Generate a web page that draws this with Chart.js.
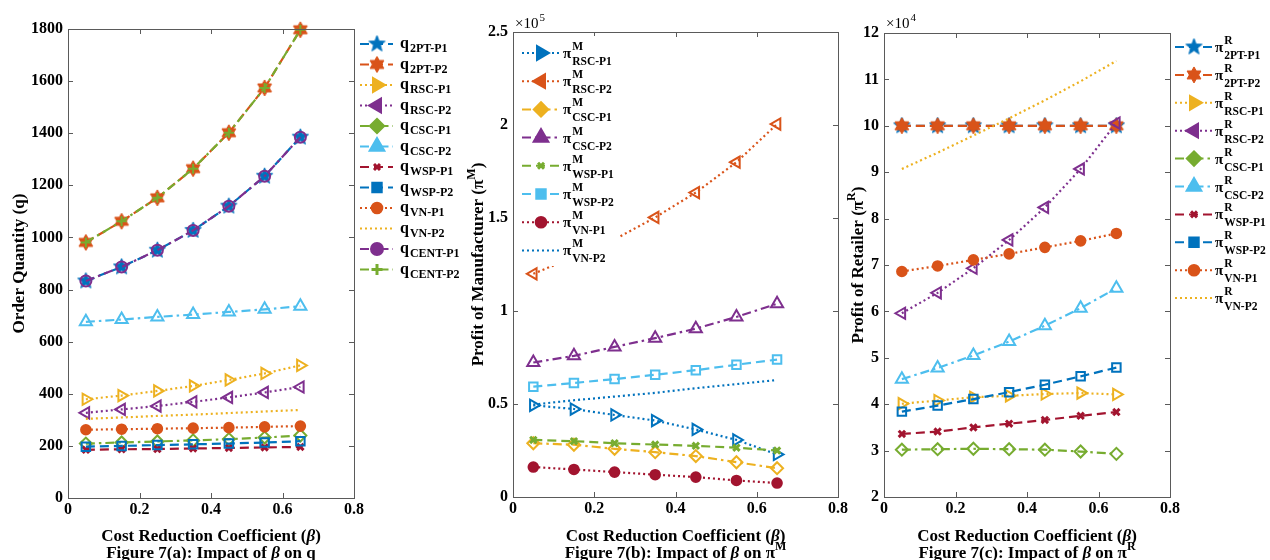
<!DOCTYPE html>
<html>
<head>
<meta charset="utf-8">
<script src="https://cdn.jsdelivr.net/npm/chart.js@4.4.1/dist/chart.umd.min.js"></script>
<style>
    html, body { margin: 0; padding: 0; background: #fff; }
    #wrap { position: relative; width: 1270px; height: 560px; overflow: hidden; background: #fff; }
    #wrap canvas { position: absolute; left: 0; top: 0; }
</style>
</head>
<body>
<div id="wrap">
    <canvas id="figA" width="1270" height="560"></canvas>
    <canvas id="figB" width="1270" height="560"></canvas>
    <canvas id="figC" width="1270" height="560"></canvas>
</div>
<script>
// x values (cost reduction coefficient beta) and tick labels
const beta = [0.05, 0.15, 0.25, 0.35, 0.45, 0.55, 0.65];
const xTickValues = [0, 0.2, 0.4, 0.6, 0.8];
const xTickLabels = ["0", "0.2", "0.4", "0.6", "0.8"];

// Figure 7(a): order quantity q
const q2ptP1 = [833, 887, 951, 1027, 1120, 1235, 1385];
const q2ptP2 = [981, 1062, 1152, 1264, 1402, 1574, 1797];
const qRscP1 = [379, 393, 411, 430, 453, 478, 509];
const qRscP2 = [327, 340, 353, 369, 386, 405, 426];
const qCscP1 = [209, 213, 217, 221, 226, 232, 240];
const qCscP2 = [676, 685, 695, 704, 714, 724, 736];
const qWspP1 = [185, 187, 188, 190, 192, 194, 196];
const qWspP2 = [197, 200, 203, 206, 209, 213, 218];
const qVnP1 = [262, 264, 266, 268, 270, 273, 276];
const qVnP2 = [304, 309, 315, 320, 326, 332, 338];
const qCentP1 = [833, 887, 951, 1027, 1120, 1235, 1385];
const qCentP2 = [981, 1062, 1152, 1264, 1402, 1574, 1797];
const yTicksA = [0, 200, 400, 600, 800, 1000, 1200, 1400, 1600, 1800];
const yLabelsA = ["0", "200", "400", "600", "800", "1000", "1200", "1400", "1600", "1800"];

// Figure 7(b): manufacturer profit
const mRscP1 = [49300, 47300, 44100, 41100, 36300, 30700, 22900];
const mRscP2 = [120000, 129000, 138500, 150300, 163700, 180000, 200500];
const mCscP1 = [28900, 28100, 25900, 24100, 22000, 18700, 15500];
const mCscP2 = [72300, 75900, 80700, 85400, 90500, 96800, 103900];
const mWspP1 = [30700, 30000, 28900, 28200, 27500, 26500, 25000];
const mWspP2 = [59300, 61300, 63400, 65700, 68200, 71100, 73900];
const mVnP1 = [16100, 14800, 13400, 12000, 10700, 8900, 7500];
const mVnP2 = [49700, 52000, 54000, 56000, 58500, 60700, 62900];
const yTicksB = [0, 50000, 100000, 150000, 200000, 250000];
const yLabelsB = ["0", "0.5", "1", "1.5", "2", "2.5"];

// Figure 7(c): retailer profit
const r2ptP1 = [100000, 100000, 100000, 100000, 100000, 100000, 100000];
const r2ptP2 = [100000, 100000, 100000, 100000, 100000, 100000, 100000];
const rRscP1 = [40100, 40800, 41500, 41800, 42200, 42400, 42100];
const rRscP2 = [59600, 64000, 69300, 75400, 82400, 90700, 100600];
const rCscP1 = [30200, 30300, 30400, 30300, 30200, 29800, 29300];
const rCscP2 = [45400, 47800, 50500, 53500, 56900, 60700, 65000];
const rWspP1 = [33600, 34100, 35000, 35800, 36600, 37500, 38300];
const rWspP2 = [38400, 39700, 41100, 42600, 44200, 46000, 47900];
const rVnP1 = [68600, 69800, 71100, 72400, 73800, 75200, 76800];
const rVnP2 = [90700, 94200, 97900, 101600, 105500, 109600, 114000];
const yTicksC = [20000, 30000, 40000, 50000, 60000, 70000, 80000, 90000, 100000, 110000, 120000];
const yLabelsC = ["2", "3", "4", "5", "6", "7", "8", "9", "10", "11", "12"];

const C = { blue: "#0072BD", orange: "#D95319", yellow: "#EDB120", purple: "#7E2F8E",
            green: "#77AC30", lightblue: "#4DBEEE", darkred: "#A2142F" };
const DASH = { dash: [9, 5], dot: [2, 3], dashdot: [9, 4, 2.5, 4] };
const FONT = '"Liberation Serif", "Times New Roman", serif';

function fnt(size, bold, italic) {
    return (italic ? "italic " : "") + (bold ? "bold " : "") + size + "px " + FONT;
}

// filled 5- or 6-pointed star as a point image
function starCanvas(n, color, r) {
    const c = document.createElement("canvas");
    const s = Math.ceil(r * 2 + 4);
    c.width = s; c.height = s;
    const g = c.getContext("2d");
    g.translate(s / 2, s / 2);
    const inner = n === 5 ? r * 0.42 : r * 0.577;
    g.beginPath();
    for (let k = 0; k < 2 * n; k++) {
        const ang = -Math.PI / 2 + k * Math.PI / n;
        const rr = k % 2 ? inner : r;
        g.lineTo(rr * Math.cos(ang), rr * Math.sin(ang));
    }
    g.closePath();
    g.fillStyle = color; g.fill();
    g.strokeStyle = color; g.lineWidth = 1; g.stroke();
    return c;
}

function markerProps(s) {
    const p = { pointStyle: "circle", pointRotation: 0, pointRadius: 5.5, pointBorderWidth: 2,
                pointBackgroundColor: s.fill ? s.color : "rgba(255,255,255,0)" };
    switch (s.marker) {
        case "none": p.pointRadius = 0; break;
        case "star5": p.pointStyle = starCanvas(5, s.color, 8.5); p.pointRadius = 7; break;
        case "star6": p.pointStyle = starCanvas(6, s.color, 8); p.pointRadius = 7; break;
        case "triR": p.pointStyle = "triangle"; p.pointRotation = 90; p.pointRadius = 6.5; break;
        case "triL": p.pointStyle = "triangle"; p.pointRotation = -90; p.pointRadius = 6.5; break;
        case "tri": p.pointStyle = "triangle"; p.pointRadius = 7; break;
        case "diamond": p.pointStyle = "rectRot"; p.pointRadius = 6; break;
        case "square": p.pointStyle = "rect"; p.pointRadius = 6; break;
        case "x": p.pointStyle = "crossRot"; p.pointRadius = 4.5; p.pointBorderWidth = 3; break;
        case "plus": p.pointStyle = "cross"; p.pointRadius = 5; p.pointBorderWidth = 2; break;
        case "circle": p.pointRadius = s.fill ? 4.8 : 5.5; break;
    }
    return p;
}

// marker for the hand drawn legends
function drawMarker(ctx, s, x, y) {
    const p = s.mp;
    if (!p.pointRadius) return;
    ctx.save();
    ctx.setLineDash([]);
    if (typeof p.pointStyle === "object") {
        ctx.drawImage(p.pointStyle, x - p.pointStyle.width / 2, y - p.pointStyle.height / 2);
        ctx.restore();
        return;
    }
    const r = p.pointRadius + 0.5;
    ctx.strokeStyle = s.color;
    ctx.fillStyle = s.fill || s.marker === "tri" ? s.color : "#fff";
    ctx.lineWidth = p.pointBorderWidth + 1;
    ctx.translate(x, y);
    ctx.rotate(p.pointRotation * Math.PI / 180);
    ctx.beginPath();
    if (p.pointStyle === "triangle") {
        for (let k = 0; k < 3; k++) {
            const a = -Math.PI / 2 + k * 2 * Math.PI / 3;
            ctx.lineTo(r * Math.cos(a), r * Math.sin(a));
        }
        ctx.closePath();
    } else if (p.pointStyle === "rectRot") {
        ctx.moveTo(0, -r); ctx.lineTo(r, 0); ctx.lineTo(0, r); ctx.lineTo(-r, 0); ctx.closePath();
    } else if (p.pointStyle === "rect") {
        const h = r * 0.65;
        ctx.rect(-h, -h, 2 * h, 2 * h);
    } else if (p.pointStyle === "circle") {
        ctx.arc(0, 0, r - 0.5, 0, Math.PI * 2);
    } else if (p.pointStyle === "crossRot") {
        const d = r * 0.6;
        ctx.lineWidth = p.pointBorderWidth;
        ctx.moveTo(-d, -d); ctx.lineTo(d, d); ctx.moveTo(d, -d); ctx.lineTo(-d, d);
        ctx.stroke(); ctx.restore(); return;
    } else if (p.pointStyle === "cross") {
        ctx.moveTo(0, -r); ctx.lineTo(0, r); ctx.moveTo(-r, 0); ctx.lineTo(r, 0);
        ctx.stroke(); ctx.restore(); return;
    }
    ctx.fill();
    ctx.stroke();
    ctx.restore();
}

// text made of pieces (for italics and superscripts)
function partsWidth(ctx, parts, base) {
    let w = 0;
    parts.forEach(p => { ctx.font = fnt(p.s || base, true, p.i); w += ctx.measureText(p.t).width; });
    return w;
}
function drawParts(ctx, parts, cx, baseY, base) {
    let x = cx - partsWidth(ctx, parts, base) / 2;
    ctx.textAlign = "left";
    ctx.textBaseline = "alphabetic";
    parts.forEach(p => {
        ctx.font = fnt(p.s || base, true, p.i);
        ctx.fillText(p.t, x, baseY + (p.dy || 0));
        x += ctx.measureText(p.t).width;
    });
}

const decor = {
    id: "decor",
    afterDraw(chart, args, o) {
        const ctx = chart.ctx, a = chart.chartArea;
        const xs = chart.scales.x, ys = chart.scales.y;
        ctx.save();
        // axes box with inward ticks
        ctx.strokeStyle = "#5a5a5a";
        ctx.lineWidth = 1;
        ctx.setLineDash([]);
        ctx.strokeRect(Math.round(a.left) + 0.5, Math.round(a.top) + 0.5,
                       Math.round(a.right - a.left), Math.round(a.bottom - a.top));
        ctx.beginPath();
        xs.ticks.forEach(t => {
            const px = Math.round(xs.getPixelForValue(t.value)) + 0.5;
            ctx.moveTo(px, a.bottom); ctx.lineTo(px, a.bottom - 5);
            ctx.moveTo(px, a.top); ctx.lineTo(px, a.top + 5);
        });
        ys.ticks.forEach(t => {
            const py = Math.round(ys.getPixelForValue(t.value)) + 0.5;
            ctx.moveTo(a.left, py); ctx.lineTo(a.left + 5, py);
            ctx.moveTo(a.right, py); ctx.lineTo(a.right - 5, py);
        });
        ctx.stroke();

        ctx.fillStyle = "#000";
        const cx = (a.left + a.right) / 2;
        drawParts(ctx, [{ t: "Cost Reduction Coefficient (" }, { t: "\u03b2", i: true }, { t: ")" }], cx, 541, 17);
        drawParts(ctx, o.caption, cx, 558, 17);

        // rotated y title
        ctx.save();
        ctx.translate(o.yTitleX + 6, (a.top + a.bottom) / 2);
        ctx.rotate(-Math.PI / 2);
        drawParts(ctx, o.yTitle, 0, 0, 17);
        ctx.restore();

        if (o.exponent) {
            ctx.font = fnt(15, false);
            ctx.textAlign = "left";
            ctx.fillText("\u00d710", a.left + 2, 28);
            const w = ctx.measureText("\u00d710").width;
            ctx.font = fnt(11, false);
            ctx.fillText(o.exponent, a.left + 2 + w + 1, 21);
        }

        // legend
        const L = o.legend;
        if (L.box) {
            ctx.fillStyle = "#fff";
            ctx.fillRect(L.box[0], L.box[1], L.box[2], L.box[3]);
        }
        o.series.forEach((s, i) => {
            const y = L.y0 + i * L.dy;
            ctx.save();
            ctx.strokeStyle = s.color;
            ctx.lineWidth = 2;
            ctx.setLineDash(DASH[s.line]);
            ctx.beginPath();
            ctx.moveTo(L.x0, y); ctx.lineTo(L.x1, y);
            ctx.stroke();
            ctx.restore();
            drawMarker(ctx, s, L.mx, y);
            ctx.fillStyle = "#000";
            ctx.textAlign = "left";
            ctx.textBaseline = "alphabetic";
            ctx.font = fnt(L.symSize, true);
            ctx.fillText(L.sym, L.tx, y + L.symDy);
            const w = ctx.measureText(L.sym).width + 1;
            if (L.sup) {
                ctx.font = fnt(L.subSize, true);
                ctx.fillText(L.sup, L.tx + w, y + L.supDy);
            }
            ctx.font = fnt(L.subSize, true);
            ctx.fillText(s.name, L.tx + w, y + L.subDy);
        });
        ctx.restore();
    }
};

function buildChart(id, series, cfg) {
    series.forEach(s => { s.mp = markerProps(s); });
    const datasets = series.map((s, i) => Object.assign({
        label: s.name,
        data: beta.map((b, k) => ({ x: b, y: s.values[k] })),
        borderColor: s.color,
        borderWidth: 2.2,
        borderDash: DASH[s.line],
        pointBorderColor: s.color,
        tension: 0,
        fill: false,
        clip: false,
        order: 100 - i
    }, s.mp));
    const tickFont = { family: FONT, size: 16, weight: "bold" };
    cfg.series = series;
    return new Chart(document.getElementById(id), {
        type: "line",
        data: { datasets },
        options: {
            responsive: false,
            animation: false,
            events: [],
            layout: { padding: cfg.pad },
            plugins: { legend: { display: false }, tooltip: { enabled: false }, decor: cfg },
            scales: {
                x: {
                    type: "linear", min: 0, max: 0.8,
                    afterBuildTicks: sc => { sc.ticks = xTickValues.map(v => ({ value: v })); },
                    afterFit: sc => { sc.height = 30; },
                    grid: { display: false, drawTicks: false },
                    border: { display: false },
                    ticks: { autoSkip: false, maxRotation: 0, padding: 2, color: "#000", font: tickFont,
                             callback: (v, i) => xTickLabels[i] }
                },
                y: {
                    type: "linear", min: cfg.yTicks[0], max: cfg.yTicks[cfg.yTicks.length - 1],
                    afterBuildTicks: sc => { sc.ticks = cfg.yTicks.map(v => ({ value: v })); },
                    afterFit: sc => { sc.width = cfg.yWidth; },
                    grid: { display: false, drawTicks: false },
                    border: { display: false },
                    ticks: { autoSkip: false, padding: 5, color: "#000", font: tickFont,
                             callback: (v, i) => cfg.yLabels[i] }
                }
            }
        },
        plugins: [decor]
    });
}

const seriesA = [
    { name: "2PT-P1", values: q2ptP1, color: C.blue, line: "dash", marker: "star5", fill: true },
    { name: "2PT-P2", values: q2ptP2, color: C.orange, line: "dash", marker: "star6", fill: true },
    { name: "RSC-P1", values: qRscP1, color: C.yellow, line: "dot", marker: "triR" },
    { name: "RSC-P2", values: qRscP2, color: C.purple, line: "dot", marker: "triL" },
    { name: "CSC-P1", values: qCscP1, color: C.green, line: "dashdot", marker: "diamond" },
    { name: "CSC-P2", values: qCscP2, color: C.lightblue, line: "dashdot", marker: "tri" },
    { name: "WSP-P1", values: qWspP1, color: C.darkred, line: "dash", marker: "x" },
    { name: "WSP-P2", values: qWspP2, color: C.blue, line: "dash", marker: "square" },
    { name: "VN-P1", values: qVnP1, color: C.orange, line: "dot", marker: "circle", fill: true },
    { name: "VN-P2", values: qVnP2, color: C.yellow, line: "dot", marker: "none" },
    { name: "CENT-P1", values: qCentP1, color: C.purple, line: "dashdot", marker: "circle" },
    { name: "CENT-P2", values: qCentP2, color: C.green, line: "dashdot", marker: "plus" }
];
const seriesB = [
    { name: "RSC-P1", values: mRscP1, color: C.blue, line: "dot", marker: "triR" },
    { name: "RSC-P2", values: mRscP2, color: C.orange, line: "dot", marker: "triL" },
    { name: "CSC-P1", values: mCscP1, color: C.yellow, line: "dashdot", marker: "diamond" },
    { name: "CSC-P2", values: mCscP2, color: C.purple, line: "dashdot", marker: "tri" },
    { name: "WSP-P1", values: mWspP1, color: C.green, line: "dash", marker: "x" },
    { name: "WSP-P2", values: mWspP2, color: C.lightblue, line: "dash", marker: "square" },
    { name: "VN-P1", values: mVnP1, color: C.darkred, line: "dot", marker: "circle", fill: true },
    { name: "VN-P2", values: mVnP2, color: C.blue, line: "dot", marker: "none" }
];
const seriesC = [
    { name: "2PT-P1", values: r2ptP1, color: C.blue, line: "dash", marker: "star5", fill: true },
    { name: "2PT-P2", values: r2ptP2, color: C.orange, line: "dash", marker: "star6", fill: true },
    { name: "RSC-P1", values: rRscP1, color: C.yellow, line: "dot", marker: "triR" },
    { name: "RSC-P2", values: rRscP2, color: C.purple, line: "dot", marker: "triL" },
    { name: "CSC-P1", values: rCscP1, color: C.green, line: "dashdot", marker: "diamond" },
    { name: "CSC-P2", values: rCscP2, color: C.lightblue, line: "dashdot", marker: "tri" },
    { name: "WSP-P1", values: rWspP1, color: C.darkred, line: "dash", marker: "x" },
    { name: "WSP-P2", values: rWspP2, color: C.blue, line: "dash", marker: "square" },
    { name: "VN-P1", values: rVnP1, color: C.orange, line: "dot", marker: "circle", fill: true },
    { name: "VN-P2", values: rVnP2, color: C.yellow, line: "dot", marker: "none" }
];

buildChart("figA", seriesA, {
    pad: { left: 0, right: 916, top: 29, bottom: 32 },
    yWidth: 68, yTicks: yTicksA, yLabels: yLabelsA, yTitleX: 18,
    yTitle: [{ t: "Order Quantity (q)" }],
    caption: [{ t: "Figure 7(a): Impact of " }, { t: "\u03b2", i: true }, { t: " on q" }],
    legend: { x0: 360, x1: 393, mx: 377, tx: 400, y0: 44, dy: 20.5,
              sym: "q", symSize: 16, symDy: 4, sup: null, subSize: 12, subDy: 8 }
});
buildChart("figB", seriesB, {
    pad: { left: 445, right: 432, top: 32, bottom: 33 },
    yWidth: 68, yTicks: yTicksB, yLabels: yLabelsB, yTitleX: 477, exponent: "5",
    yTitle: [{ t: "Profit of Manufacturer (" }, { t: "\u03c0" }, { t: "M", s: 12, dy: -8 }, { t: ")" }],
    caption: [{ t: "Figure 7(b): Impact of " }, { t: "\u03b2", i: true }, { t: " on \u03c0" }, { t: "M", s: 12, dy: -8 }],
    legend: { x0: 522, x1: 560, mx: 541, tx: 563, y0: 53, dy: 28.2, box: [514, 36, 105, 230],
              sym: "\u03c0", symSize: 15, symDy: 5, sup: "M", supDy: -3, subSize: 11.5, subDy: 12 }
});
buildChart("figC", seriesC, {
    pad: { left: 850, right: 100, top: 33, bottom: 33 },
    yWidth: 34, yTicks: yTicksC, yLabels: yLabelsC, yTitleX: 857, exponent: "4",
    yTitle: [{ t: "Profit of Retailer (" }, { t: "\u03c0" }, { t: "R", s: 12, dy: -8 }, { t: ")" }],
    caption: [{ t: "Figure 7(c): Impact of " }, { t: "\u03b2", i: true }, { t: " on \u03c0" }, { t: "R", s: 12, dy: -8 }],
    legend: { x0: 1175, x1: 1212, mx: 1194, tx: 1215, y0: 47, dy: 27.9,
              sym: "\u03c0", symSize: 15, symDy: 5, sup: "R", supDy: -3, subSize: 11.5, subDy: 12 }
});
</script>
</body>
</html>
